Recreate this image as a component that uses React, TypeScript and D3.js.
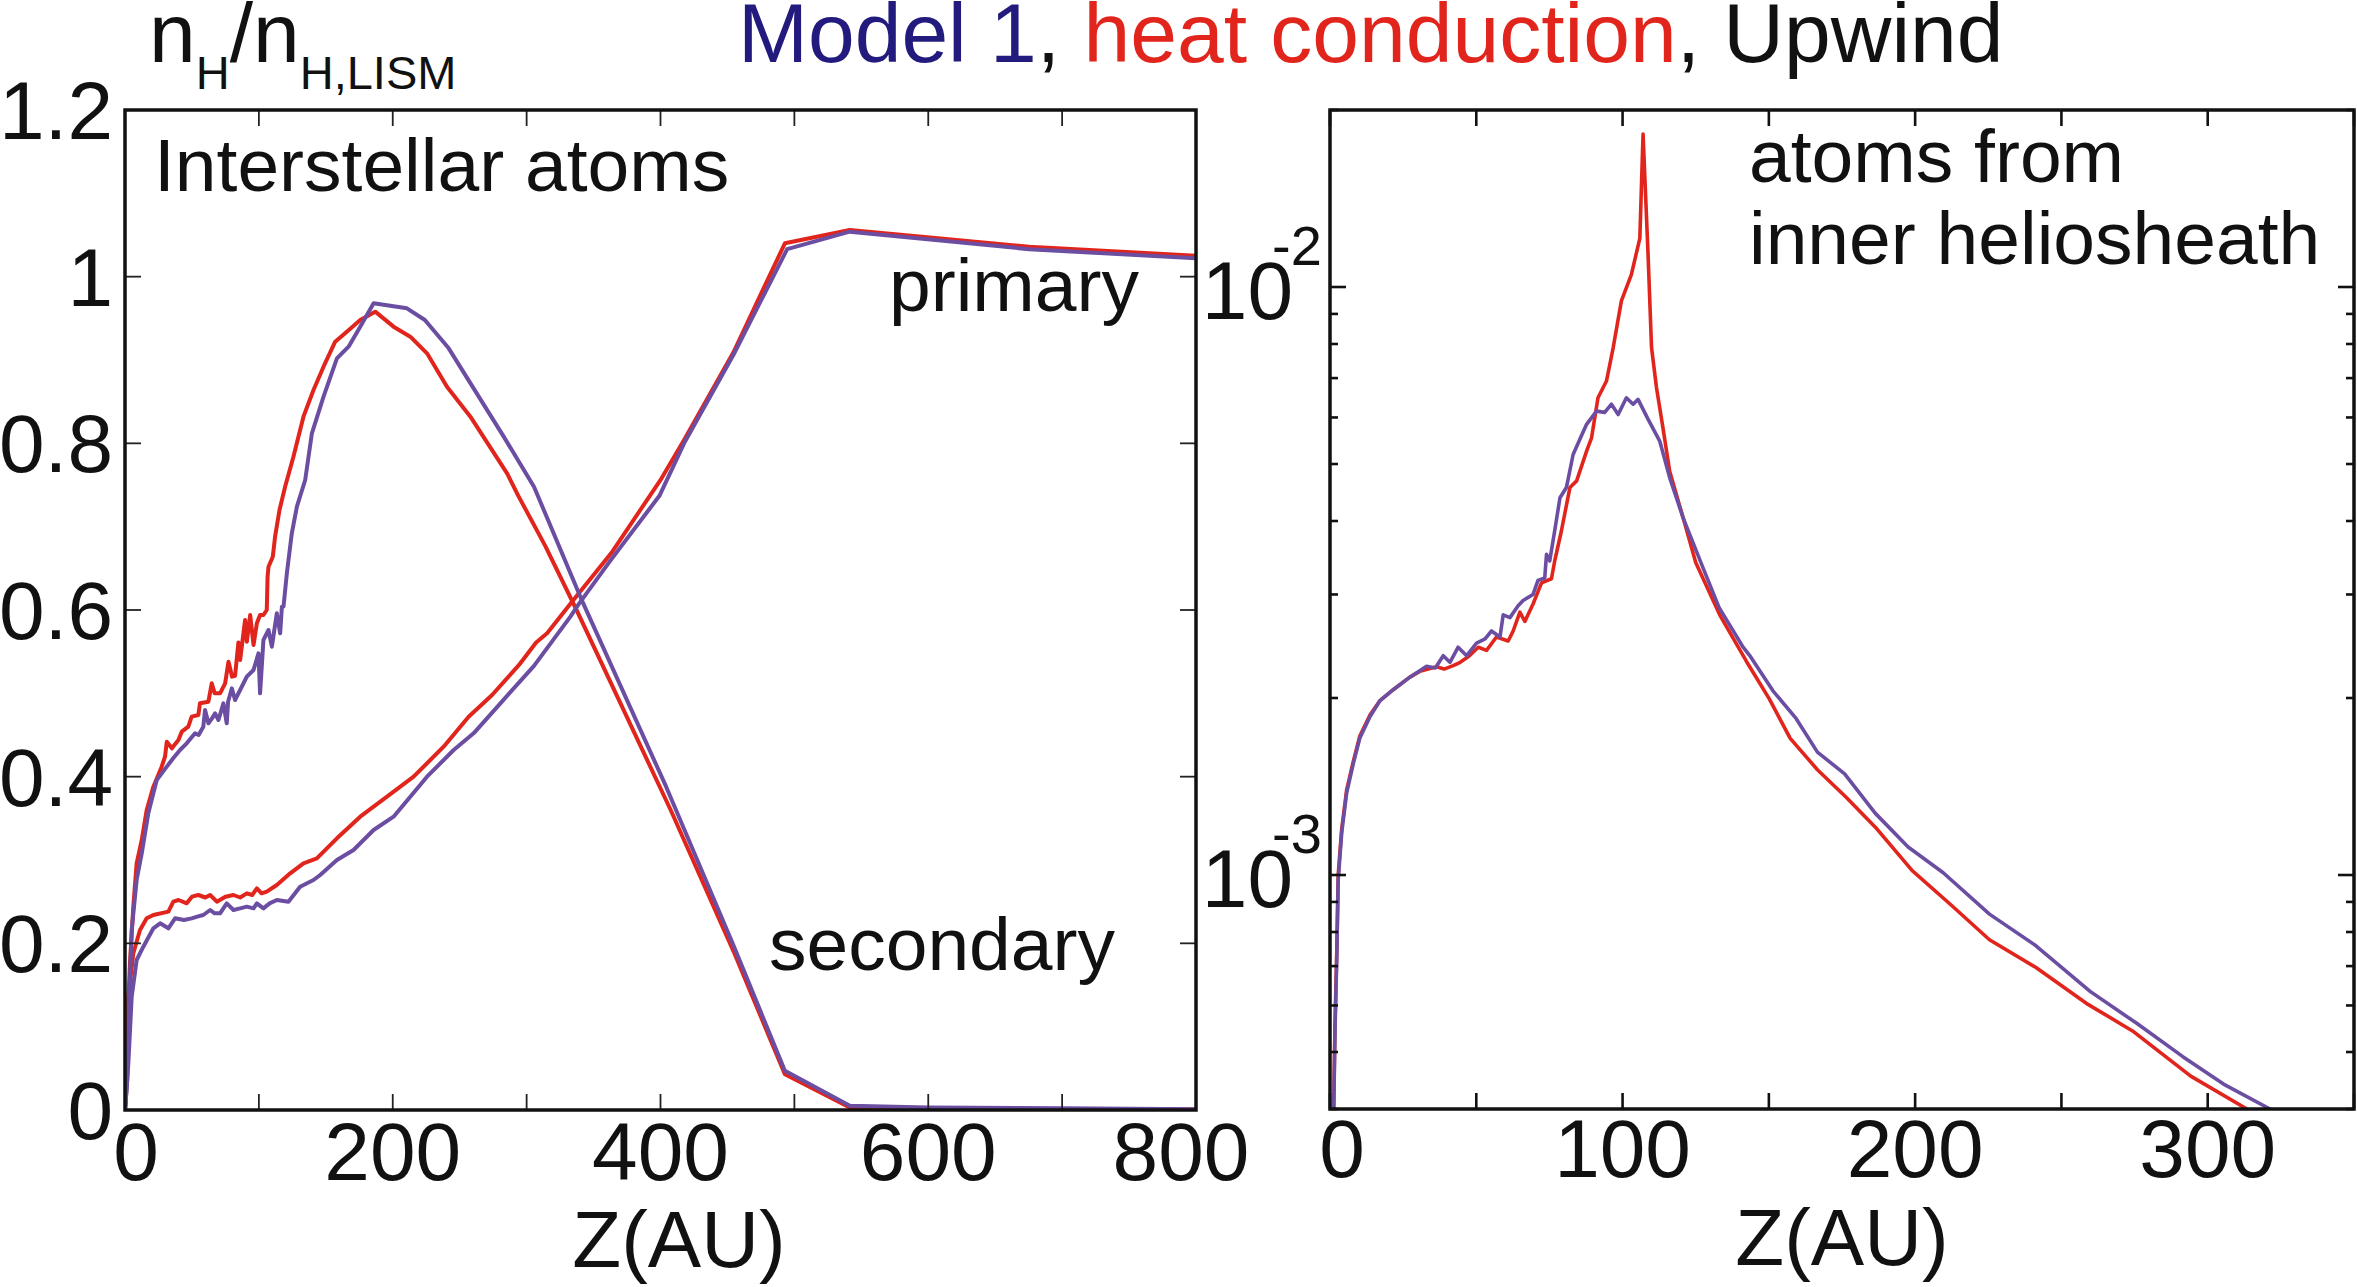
import React from "react";
import * as d3 from "d3";

type Pt = [number, number];

// ---------- Data: left panel (linear n_H/n_H,LISM vs Z in AU) ----------
const secondaryHeat: Pt[] = [
  [0, 0], [0.7, 0.016], [1.7, 0.096], [3.7, 0.176], [6.2, 0.244], [8.7, 0.296], [12.5, 0.324],
  [16.2, 0.36], [21.2, 0.388], [27.4, 0.412], [29.9, 0.424], [31.2, 0.442], [35, 0.434],
  [39.9, 0.444], [42.4, 0.454], [47.3, 0.46], [49.8, 0.472], [54.8, 0.474], [56, 0.488],
  [62.3, 0.49], [64.8, 0.512], [67, 0.5], [71, 0.5], [74.8, 0.512], [77.3, 0.538], [80, 0.52],
  [82.2, 0.521], [84.7, 0.561], [86, 0.54], [89.7, 0.588], [91, 0.562], [93.5, 0.594],
  [96, 0.558], [98.5, 0.584], [100.9, 0.594], [103.4, 0.594], [105.9, 0.6], [106.5, 0.64],
  [107.2, 0.652], [110.4, 0.664], [112.1, 0.688], [115.4, 0.72], [119.6, 0.748], [125.8, 0.784],
  [133.3, 0.832], [140.8, 0.864], [148.3, 0.892], [157, 0.922], [165.7, 0.934], [175.7, 0.948],
  [186.9, 0.958], [200.6, 0.94], [213.1, 0.928], [225.6, 0.908], [240.5, 0.868], [258, 0.832],
  [285.4, 0.764], [293.8, 0.737], [313.9, 0.677], [337.3, 0.6], [407.6, 0.36], [454.4, 0.191],
  [492.9, 0.043], [541.4, 0.003], [600, 0.002], [700, 0.001], [800, 0.001],
];

const secondaryModel1: Pt[] = [
  [0, 0], [1.7, 0.036], [3.2, 0.136], [5, 0.216], [8.7, 0.276], [12.5, 0.308], [17.4, 0.356],
  [23.7, 0.396], [31.2, 0.412], [36, 0.422], [41.1, 0.432], [46.1, 0.44], [52.3, 0.452],
  [55, 0.45], [58.5, 0.46], [59.8, 0.48], [62.3, 0.464], [65, 0.47], [67.3, 0.476],
  [69.8, 0.468], [73.5, 0.488], [76, 0.464], [77, 0.49], [79.8, 0.506], [82.2, 0.492],
  [86, 0.504], [91, 0.52], [96, 0.528], [99.7, 0.548], [100.9, 0.5], [103.4, 0.564],
  [107.2, 0.576], [109.7, 0.556], [113.4, 0.596], [115.9, 0.572], [117.2, 0.604],
  [118.4, 0.604], [120.9, 0.644], [124.6, 0.692], [128.4, 0.724], [134.6, 0.756],
  [139.6, 0.812], [148.3, 0.856], [158.3, 0.902], [167, 0.916], [175.7, 0.94], [185.7, 0.968],
  [210.6, 0.962], [224, 0.948], [241.8, 0.914], [260.4, 0.866], [282.9, 0.808], [305.5, 0.748],
  [340.6, 0.614], [404.2, 0.388], [454.4, 0.198], [492.9, 0.047], [541.4, 0.005], [600, 0.003],
  [700, 0.002], [800, 0.001],
];

const primaryHeat: Pt[] = [
  [0, 0], [0.7, 0.012], [2.5, 0.136], [6.2, 0.188], [11.2, 0.216], [16.2, 0.23], [21.2, 0.234],
  [32.4, 0.238], [36.1, 0.25], [40, 0.252], [46.1, 0.248], [50, 0.256], [54.8, 0.258],
  [60, 0.255], [63.6, 0.258], [68.6, 0.25], [75, 0.256], [81, 0.258], [86, 0.255], [91, 0.26],
  [95, 0.258], [98.5, 0.266], [102, 0.26], [105.9, 0.262], [113.4, 0.27], [123.4, 0.284],
  [133.3, 0.296], [143.3, 0.302], [158.3, 0.326], [175.7, 0.352], [195.7, 0.376],
  [215.6, 0.4], [238, 0.436], [256.7, 0.472], [274.2, 0.498], [295.3, 0.536], [307.1, 0.561],
  [315.3, 0.572], [333.9, 0.61], [364, 0.67], [400.8, 0.758], [417.6, 0.804], [454.4, 0.909],
  [492.9, 1.04], [541.4, 1.056], [675.3, 1.036], [800, 1.025],
];

const primaryModel1: Pt[] = [
  [0, 0], [2.5, 0.056], [5, 0.136], [8.7, 0.18], [13.7, 0.196], [21.2, 0.218], [26.2, 0.224],
  [32.4, 0.218], [37.4, 0.23], [44, 0.228], [49.8, 0.23], [54, 0.232], [58.5, 0.234],
  [63.6, 0.24], [67, 0.236], [71, 0.236], [76, 0.248], [81, 0.24], [86, 0.242], [91, 0.244],
  [96, 0.242], [98.5, 0.248], [103.4, 0.242], [108, 0.248], [113.4, 0.252], [122.1, 0.25],
  [130.8, 0.268], [140.8, 0.276], [145.8, 0.282], [158.3, 0.3], [170.7, 0.312], [185.7, 0.336],
  [200.6, 0.352], [225.6, 0.4], [245.5, 0.432], [260.4, 0.452], [280.4, 0.488], [305.5, 0.533],
  [332.7, 0.592], [338.9, 0.607], [362.4, 0.659], [399.2, 0.737], [417.6, 0.8], [454.4, 0.906],
  [494.6, 1.033], [541.4, 1.054], [675.3, 1.033], [800, 1.022],
];

// ---------- Data: right panel (log, atoms from inner heliosheath) ----------
const innerHeat: Pt[] = [
  [0.3, 2e-4], [1.7, 5.55e-4], [2.3, 7.34e-4], [2.8, 1e-3], [4, 1.198e-3], [5.7, 1.397e-3],
  [8, 1.563e-3], [10.2, 1.723e-3], [13.7, 1.873e-3], [17.1, 1.98e-3], [21.6, 2.066e-3],
  [27.3, 2.17e-3], [30.7, 2.22e-3], [36.4, 2.26e-3], [39, 2.24e-3], [42.1, 2.27e-3],
  [44.5, 2.3e-3], [47.2, 2.35e-3], [50.7, 2.44e-3], [53.5, 2.41e-3], [56.9, 2.54e-3],
  [60.9, 2.5e-3], [62.6, 2.6e-3], [64.9, 2.8e-3], [66.6, 2.7e-3], [69.4, 2.89e-3],
  [72.3, 3.14e-3], [75.7, 3.19e-3], [76.8, 3.42e-3], [79.1, 3.85e-3], [82, 4.56e-3],
  [84.3, 4.68e-3], [87.7, 5.26e-3], [89.4, 5.54e-3], [91.6, 6.48e-3], [94.5, 6.92e-3],
  [96.8, 7.89e-3], [99.6, 9.47e-3], [103, 1.05e-2], [105.9, 1.21e-2], [107, 1.82e-2],
  [108.7, 1.14e-2], [109.9, 7.89e-3], [111.6, 6.74e-3], [113.8, 5.76e-3], [116.1, 4.86e-3],
  [120.7, 4.05e-3], [125, 3.4e-3], [133.2, 2.77e-3], [142.3, 2.31e-3], [150.1, 1.995e-3],
  [157.3, 1.708e-3], [166.6, 1.51e-3], [176.5, 1.355e-3], [186.4, 1.206e-3], [199, 1.017e-3],
  [212.2, 8.9e-4], [225.4, 7.76e-4], [241.3, 6.96e-4], [258.5, 6.05e-4], [274.3, 5.43e-4],
  [294.2, 4.55e-4], [313.4, 4.0e-4], [320, 3.8e-4],
];

const innerModel1: Pt[] = [
  [0.3, 2e-4], [1.7, 5.4e-4], [2.3, 7.2e-4], [2.8, 9.8e-4], [4, 1.18e-3], [5.7, 1.38e-3],
  [8, 1.55e-3], [10.2, 1.71e-3], [13.7, 1.86e-3], [17.1, 1.98e-3], [21.6, 2.066e-3],
  [27.3, 2.17e-3], [33, 2.264e-3], [36, 2.25e-3], [38.7, 2.36e-3], [41, 2.3e-3],
  [43.8, 2.44e-3], [46.7, 2.36e-3], [50.1, 2.48e-3], [53, 2.52e-3], [55.2, 2.6e-3],
  [58.1, 2.54e-3], [59.2, 2.77e-3], [61.5, 2.74e-3], [64.3, 2.87e-3], [66, 2.93e-3],
  [69.4, 3.0e-3], [71.1, 3.17e-3], [73.4, 3.2e-3], [74, 3.51e-3], [75.1, 3.42e-3],
  [76.8, 3.85e-3], [78.6, 4.38e-3], [80.8, 4.56e-3], [83.1, 5.19e-3], [85.4, 5.51e-3],
  [87.7, 5.84e-3], [91.1, 6.15e-3], [93.9, 6.12e-3], [96.2, 6.32e-3], [98.5, 6.07e-3],
  [101.3, 6.48e-3], [103.6, 6.32e-3], [105.3, 6.44e-3], [108.7, 5.96e-3], [112.7, 5.47e-3],
  [116.1, 4.74e-3], [120.7, 4.05e-3], [127.5, 3.33e-3], [133, 2.85e-3], [141.2, 2.44e-3],
  [143.4, 2.364e-3], [151.4, 2.057e-3], [159.3, 1.846e-3], [166.6, 1.618e-3],
  [175.9, 1.486e-3], [186.4, 1.273e-3], [197.6, 1.116e-3], [209.6, 1.009e-3],
  [225.4, 8.58e-4], [241.3, 7.58e-4], [259.8, 6.34e-4], [275.6, 5.6e-4], [291.5, 4.91e-4],
  [305.4, 4.41e-4], [321.3, 4.0e-4], [330, 3.7e-4],
];

// ---------- Axis / tick definitions ----------
const leftXDomain: [number, number] = [0, 800];
const leftYDomain: [number, number] = [0, 1.2];
const leftXTicks = [0, 100, 200, 300, 400, 500, 600, 700, 800];
const leftXLabels = [0, 200, 400, 600, 800];
const leftYTicks = [0, 0.2, 0.4, 0.6, 0.8, 1, 1.2];
const leftYLabels = ["0", "0.2", "0.4", "0.6", "0.8", "1", "1.2"];

const rightXDomain: [number, number] = [0, 350];
const rightYDomain: [number, number] = [4e-4, 2e-2];
const rightXTicks = [0, 50, 100, 150, 200, 250, 300, 350];
const rightXLabels = [0, 100, 200, 300];
const rightYLabelExps = [-3, -2];

const RED = "#e1251d";
const PURPLE = "#6b4ea2";
const NAVY = "#221a7c";
const FONT = "'Liberation Sans', Arial, Helvetica, sans-serif";

export default function App() {
  const W = 2357;
  const H = 1287;

  // panel geometry
  const L = { x0: 125, x1: 1196, y0: 110, y1: 1110 };
  const R = { x0: 1330, x1: 2354, y0: 110, y1: 1109 };

  const lx = d3.scaleLinear().domain(leftXDomain).range([L.x0, L.x1]);
  const ly = d3.scaleLinear().domain(leftYDomain).range([L.y1, L.y0]);
  const rx = d3.scaleLinear().domain(rightXDomain).range([R.x0, R.x1]);
  const ry = d3.scaleLog().domain(rightYDomain).range([R.y1, R.y0]);

  const lineL = d3.line<Pt>().x((d) => lx(d[0])).y((d) => ly(d[1]));
  const lineR = d3.line<Pt>().x((d) => rx(d[0])).y((d) => ry(Math.max(d[1], 1e-5)));

  const rTicks = ry.ticks();

  const tickStroke = "#222";
  const frameW = 3.5;

  return (
    <svg
      width={W}
      height={H}
      viewBox={`0 0 ${W} ${H}`}
      style={{ position: "absolute", left: 0, top: 0, background: "#fff" }}
      fontFamily={FONT}
    >
      <rect x={0} y={0} width={W} height={H} fill="#fff" />
      <defs>
        <clipPath id="clipL">
          <rect x={L.x0} y={L.y0} width={L.x1 - L.x0} height={L.y1 - L.y0} />
        </clipPath>
        <clipPath id="clipR">
          <rect x={R.x0} y={R.y0} width={R.x1 - R.x0} height={R.y1 - R.y0} />
        </clipPath>
      </defs>

      {/* Title */}
      <text x={738} y={62} fontSize={84}>
        <tspan fill={NAVY}>Model 1</tspan>
        <tspan fill="#111">, </tspan>
        <tspan fill={RED}>heat conduction</tspan>
        <tspan fill="#111">, Upwind</tspan>
      </text>

      {/* Y label */}
      <text x={149} y={62} fontSize={84} fill="#111">
        n
        <tspan fontSize={47} dy={27}>H</tspan>
        <tspan fontSize={84} dy={-27}>/n</tspan>
        <tspan fontSize={47} dy={27}>H,LISM</tspan>
      </text>

      {/* ---------- Left panel ---------- */}
      <g clipPath="url(#clipL)" fill="none" strokeLinejoin="round">
        <path d={lineL(secondaryHeat) || ""} stroke={RED} strokeWidth={4} />
        <path d={lineL(primaryHeat) || ""} stroke={RED} strokeWidth={4} />
        <path d={lineL(secondaryModel1) || ""} stroke={PURPLE} strokeWidth={4} />
        <path d={lineL(primaryModel1) || ""} stroke={PURPLE} strokeWidth={4} />
      </g>
      <g stroke={tickStroke} strokeWidth={1.8}>
        {leftXTicks.map((t) => (
          <g key={`lxt${t}`}>
            <line x1={lx(t)} x2={lx(t)} y1={L.y1} y2={L.y1 - 16} />
            <line x1={lx(t)} x2={lx(t)} y1={L.y0} y2={L.y0 + 16} />
          </g>
        ))}
        {leftYTicks.map((t) => (
          <g key={`lyt${t}`}>
            <line x1={L.x0} x2={L.x0 + 16} y1={ly(t)} y2={ly(t)} />
            <line x1={L.x1} x2={L.x1 - 16} y1={ly(t)} y2={ly(t)} />
          </g>
        ))}
      </g>
      <rect
        x={L.x0}
        y={L.y0}
        width={L.x1 - L.x0}
        height={L.y1 - L.y0}
        fill="none"
        stroke="#111"
        strokeWidth={frameW}
      />
      {leftYTicks.map((t, i) => (
        <text key={`lyl${t}`} x={113} y={ly(t) + 29} fontSize={82} textAnchor="end" fill="#111">
          {leftYLabels[i]}
        </text>
      ))}
      {leftXLabels.map((t, i) => (
        <text
          key={`lxl${t}`}
          x={lx(t) + (i === 0 ? 11 : i === leftXLabels.length - 1 ? -15 : 0)}
          y={1180}
          fontSize={82}
          textAnchor="middle"
          fill="#111"
        >
          {t}
        </text>
      ))}
      <text x={679} y={1267} fontSize={80} textAnchor="middle" fill="#111">
        Z(AU)
      </text>
      <text x={154} y={191} fontSize={75} fill="#111">
        Interstellar atoms
      </text>
      <text x={1139} y={311} fontSize={75} textAnchor="end" fill="#111">
        primary
      </text>
      <text x={1115} y={970} fontSize={75} textAnchor="end" fill="#111">
        secondary
      </text>

      {/* ---------- Right panel ---------- */}
      <g clipPath="url(#clipR)" fill="none" strokeLinejoin="round">
        <path d={lineR(innerHeat) || ""} stroke={RED} strokeWidth={3.6} />
        <path d={lineR(innerModel1) || ""} stroke={PURPLE} strokeWidth={3.6} />
      </g>
      <g stroke="#111" strokeWidth={2.6}>
        {rightXTicks.map((t) => (
          <g key={`rxt${t}`}>
            <line x1={rx(t)} x2={rx(t)} y1={R.y1} y2={R.y1 - 16} />
            <line x1={rx(t)} x2={rx(t)} y1={R.y0} y2={R.y0 + 16} />
          </g>
        ))}
        {rTicks.map((t) => {
          const major = Math.abs(Math.log10(t) - Math.round(Math.log10(t))) < 1e-9;
          const len = major ? 16 : 8;
          return (
            <g key={`ryt${t}`}>
              <line x1={R.x0} x2={R.x0 + len} y1={ry(t)} y2={ry(t)} />
              <line x1={R.x1} x2={R.x1 - len} y1={ry(t)} y2={ry(t)} />
            </g>
          );
        })}
      </g>
      <rect
        x={R.x0}
        y={R.y0}
        width={R.x1 - R.x0}
        height={R.y1 - R.y0}
        fill="none"
        stroke="#111"
        strokeWidth={frameW}
      />
      {rightYLabelExps.map((e) => {
        const y = ry(Math.pow(10, e)) + 32;
        return (
          <g key={`ryl${e}`} fill="#111">
            <text x={1293} y={y} fontSize={82} textAnchor="end">
              10
            </text>
            <text x={1272} y={y - 54} fontSize={56}>
              {`-${Math.abs(e)}`}
            </text>
          </g>
        );
      })}
      {rightXLabels.map((t, i) => (
        <text
          key={`rxl${t}`}
          x={rx(t) + (i === 0 ? 12 : 0)}
          y={1177}
          fontSize={82}
          textAnchor="middle"
          fill="#111"
        >
          {t}
        </text>
      ))}
      <text x={1842} y={1265} fontSize={80} textAnchor="middle" fill="#111">
        Z(AU)
      </text>
      <text x={1749} y={182} fontSize={75} fill="#111">
        atoms from
      </text>
      <text x={1749} y={264} fontSize={75} fill="#111">
        inner heliosheath
      </text>
    </svg>
  );
}
